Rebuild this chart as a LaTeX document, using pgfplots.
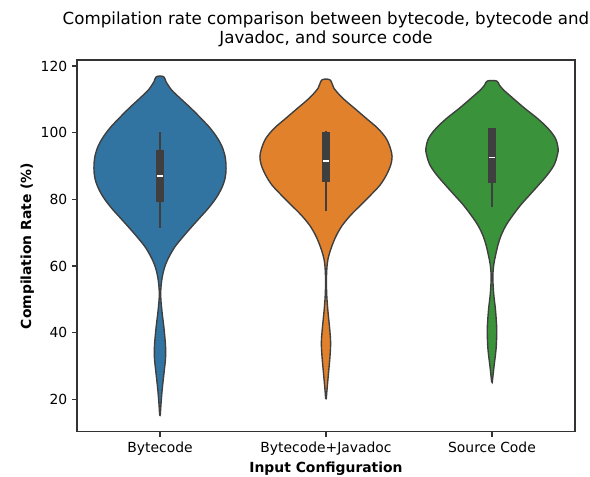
\documentclass[border=0pt]{standalone}
\usepackage{pgfplots}
\usepackage{pgfplotstable}
\pgfplotsset{compat=1.18}
\usepackage{fontspec}
\setmainfont{DejaVu Sans}
\definecolor{vblue}{HTML}{3274A1}
\definecolor{vorange}{HTML}{E1812C}
\definecolor{vgreen}{HTML}{3A923A}
\definecolor{edge}{HTML}{3F3F3F}

% violin outline: offset h from the category centre at compilation rate v
% (right side upwards, then left side downwards)
\pgfplotstableread{
v h
15.3 0.002
17.8 0.005
22.8 0.013
27.8 0.024
32.0 0.033
34.5 0.034
37.0 0.032
41.8 0.023
46.8 0.011
51.8 0.004
56.8 0.014
61.0 0.038
65.3 0.084
68.3 0.131
71.3 0.183
74.3 0.237
77.3 0.291
80.3 0.337
83.3 0.371
86.3 0.392
89.3 0.398
92.3 0.394
95.3 0.378
98.3 0.347
101.3 0.303
104.3 0.247
107.3 0.187
110.3 0.122
112.8 0.070
115.3 0.036
116.8 0.022
116.8 -0.022
115.3 -0.036
112.8 -0.070
110.3 -0.122
107.3 -0.187
104.3 -0.247
101.3 -0.303
98.3 -0.347
95.3 -0.378
92.3 -0.394
89.3 -0.398
86.3 -0.392
83.3 -0.371
80.3 -0.337
77.3 -0.291
74.3 -0.237
71.3 -0.183
68.3 -0.131
65.3 -0.084
61.0 -0.038
56.8 -0.014
51.8 -0.004
46.8 -0.011
41.8 -0.023
37.0 -0.032
34.5 -0.034
32.0 -0.033
27.8 -0.024
22.8 -0.013
17.8 -0.005
15.3 -0.002
15.3 0.002
}\tA
\pgfplotstableread{
v h
20.3 0.002
22.8 0.006
27.8 0.015
32.8 0.024
36.8 0.028
39.5 0.025
41.8 0.021
46.8 0.011
51.8 0.004
56.8 0.003
60.8 0.008
63.3 0.018
66.3 0.038
69.3 0.064
72.3 0.100
75.3 0.150
78.3 0.210
81.3 0.270
84.3 0.326
87.3 0.364
90.3 0.390
92.8 0.398
95.3 0.388
98.3 0.362
101.3 0.312
104.3 0.242
107.3 0.172
110.3 0.102
113.3 0.048
115.8 0.025
115.8 -0.025
113.3 -0.048
110.3 -0.102
107.3 -0.172
104.3 -0.242
101.3 -0.312
98.3 -0.362
95.3 -0.388
92.8 -0.398
90.3 -0.390
87.3 -0.364
84.3 -0.326
81.3 -0.270
78.3 -0.210
75.3 -0.150
72.3 -0.100
69.3 -0.064
66.3 -0.038
63.3 -0.018
60.8 -0.008
56.8 -0.003
51.8 -0.004
46.8 -0.011
41.8 -0.021
39.5 -0.025
36.8 -0.028
32.8 -0.024
27.8 -0.015
22.8 -0.006
20.3 -0.002
20.3 0.002
}\tB
\pgfplotstableread{
v h
25.3 0.002
29.8 0.012
34.8 0.024
38.8 0.028
41.8 0.028
46.8 0.021
51.8 0.010
56.8 0.005
60.5 0.011
63.3 0.022
66.3 0.036
69.3 0.056
72.3 0.086
75.3 0.127
78.3 0.173
81.3 0.227
84.3 0.281
87.3 0.333
90.3 0.374
93.3 0.394
95.3 0.398
98.3 0.382
101.3 0.337
104.3 0.273
107.3 0.197
110.3 0.127
112.8 0.070
114.3 0.044
115.5 0.028
115.5 -0.028
114.3 -0.044
112.8 -0.070
110.3 -0.127
107.3 -0.197
104.3 -0.273
101.3 -0.337
98.3 -0.382
95.3 -0.398
93.3 -0.394
90.3 -0.374
87.3 -0.333
84.3 -0.281
81.3 -0.227
78.3 -0.173
75.3 -0.127
72.3 -0.086
69.3 -0.056
66.3 -0.036
63.3 -0.022
60.5 -0.011
56.8 -0.005
51.8 -0.010
46.8 -0.021
41.8 -0.028
38.8 -0.028
34.8 -0.024
29.8 -0.012
25.3 -0.002
25.3 0.002
}\tC

\begin{document}
\begin{tikzpicture}
\begin{axis}[
  scale only axis,
  width=358.6pt, height=267.8pt,
  xmin=-0.5, xmax=2.5, ymin=10.2, ymax=121.8,
  xtick={0,1,2},
  xticklabels={Bytecode,Bytecode+Javadoc,Source Code},
  ytick={20,40,60,80,100,120},
  tick align=outside, tick pos=left,
  major tick length=3.5pt,
  axis line style={black!80, line width=0.8pt},
  every tick/.style={black!80, line width=0.8pt},
  ticklabel style={font=\fontsize{10}{12}\selectfont},
  /pgf/number format/assume math mode=true,
  xlabel={\textbf{Input Configuration}},
  ylabel={\textbf{Compilation Rate (\%)}},
  label style={font=\fontsize{10}{12}\selectfont},
  xlabel style={yshift=2pt},
  ylabel style={yshift=-2pt},
  title={Compilation rate comparison between bytecode, bytecode and\\Javadoc, and source code},
  title style={align=center, font=\fontsize{12}{13.7}\selectfont, yshift=0pt},
]
\addplot[fill=vblue, draw=edge, line width=1pt, smooth, tension=0.55] table[x expr=0+\thisrow{h}, y=v] {\tA};
\addplot[fill=vorange, draw=edge, line width=1pt, smooth, tension=0.55] table[x expr=1+\thisrow{h}, y=v] {\tB};
\addplot[fill=vgreen, draw=edge, line width=1pt, smooth, tension=0.55] table[x expr=2+\thisrow{h}, y=v] {\tC};
% inner boxes: whisker, quartile box, median
\addplot[edge, line width=1.7pt] coordinates {(0,71.5) (0,100.3)};
\addplot[edge, line width=5.8pt] coordinates {(0,79.3) (0,94.8)};
\addplot[white, line width=1pt] coordinates {(-0.017,87.0) (0.017,87.0)};
\addplot[edge, line width=1.7pt] coordinates {(1,76.6) (1,100.4)};
\addplot[edge, line width=5.8pt] coordinates {(1,85.3) (1,100.2)};
\addplot[white, line width=1pt] coordinates {(0.983,91.5) (1.017,91.5)};
\addplot[edge, line width=1.7pt] coordinates {(2,77.8) (2,101.3)};
\addplot[edge, line width=5.8pt] coordinates {(2,85.0) (2,101.3)};
\addplot[white, line width=1pt] coordinates {(1.983,92.6) (2.017,92.6)};
\end{axis}
\pgfresetboundingbox
\useasboundingbox (current axis.south west) ++(-55.44pt,-32.4pt) rectangle ([xshift=10.8pt,yshift=43.2pt]current axis.north east);
\end{tikzpicture}
\end{document}
